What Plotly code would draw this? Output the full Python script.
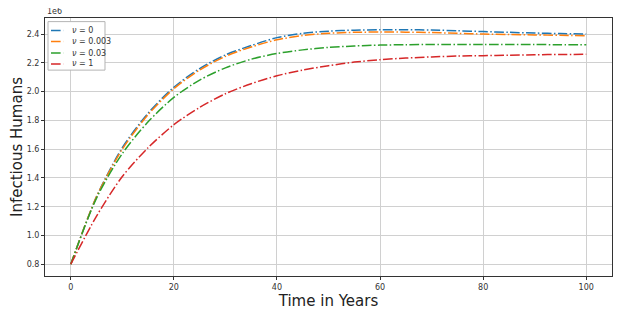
import plotly.graph_objects as go

years = [0, 5, 10, 15, 20, 25, 30, 35, 40, 45, 50, 55, 60, 65, 70, 75, 80, 85, 90, 95, 100]

# values in millions of humans
nu_0 = [0.80, 1.27, 1.61, 1.85, 2.03, 2.16, 2.255, 2.32, 2.375, 2.405, 2.42, 2.427, 2.43, 2.43, 2.428, 2.423, 2.417, 2.412, 2.407, 2.403, 2.400]
nu_0003 = [0.80, 1.27, 1.60, 1.84, 2.02, 2.15, 2.245, 2.31, 2.36, 2.39, 2.405, 2.412, 2.414, 2.413, 2.41, 2.405, 2.40, 2.397, 2.394, 2.391, 2.388]
nu_003 = [0.80, 1.26, 1.57, 1.79, 1.96, 2.08, 2.165, 2.225, 2.265, 2.29, 2.307, 2.317, 2.323, 2.326, 2.328, 2.328, 2.328, 2.327, 2.327, 2.326, 2.326]
nu_1 = [0.80, 1.135, 1.41, 1.61, 1.77, 1.89, 1.985, 2.055, 2.11, 2.15, 2.18, 2.205, 2.222, 2.233, 2.241, 2.247, 2.25, 2.253, 2.256, 2.258, 2.259]

series_names = ["<i>ν</i> = 0", "<i>ν</i> = 0.003", "<i>ν</i> = 0.03", "<i>ν</i> = 1"]
series_vals = [nu_0, nu_0003, nu_003, nu_1]
colors = ["#1f77b4", "#ff7f0e", "#2ca02c", "#d62728"]

y_ticks = [0.8, 1.0, 1.2, 1.4, 1.6, 1.8, 2.0, 2.2, 2.4]
x_ticks = [0, 20, 40, 60, 80, 100]

DASH = "9.6px,2.4px,1.5px,2.4px"

fig = go.Figure()
for name, vals, c in zip(series_names, series_vals, colors):
    fig.add_trace(go.Scatter(
        x=years, y=[v * 1e6 for v in vals], name=name, mode="lines",
        line=dict(color=c, width=1.5, dash=DASH, shape="spline", smoothing=0.8),
    ))

axis_common = dict(showline=True, linecolor="#333", linewidth=1, mirror=True,
                   showgrid=True, gridcolor="#d0d0d0", gridwidth=1, zeroline=False,
                   ticks="outside", ticklen=3, tickcolor="#333", automargin=False,
                   tickfont=dict(family="DejaVu Sans", size=8, color="#333"))

# compact matplotlib-style legend (box + samples + labels)
shapes = [dict(type="rect", xref="paper", yref="paper", x0=0.0053, x1=0.1058, y0=0.798, y1=0.986,
               line=dict(color="#b4b4b4", width=1), fillcolor="white", layer="above")]
annotations = [dict(text="1e6", xref="paper", yref="paper", x=0, y=1,
                    xanchor="left", yanchor="bottom", showarrow=False,
                    font=dict(size=8, color="#333"))]
row_y = [0.952, 0.909, 0.864, 0.822]
for name, c, ry in zip(series_names, colors, row_y):
    shapes.append(dict(type="line", xref="paper", yref="paper", x0=0.0106, x1=0.032, y0=ry, y1=ry,
                       line=dict(color=c, width=1.5, dash=DASH), layer="above"))
    annotations.append(dict(text=name, xref="paper", yref="paper", x=0.044, y=ry,
                            xanchor="left", yanchor="middle", showarrow=False,
                            font=dict(size=8, color="#333")))

fig.update_layout(
    width=620, height=303,
    margin=dict(l=37, r=16, t=10, b=35),
    paper_bgcolor="white", plot_bgcolor="white",
    font=dict(family="DejaVu Sans", color="#222"),
    xaxis=dict(range=[-5, 105], tickvals=x_ticks,
               title=dict(text="Time in Years", font=dict(size=15, color="#222"), standoff=2),
               **axis_common),
    yaxis=dict(range=[0.7185e6, 2.5115e6], tickvals=[v * 1e6 for v in y_ticks],
               ticktext=[f"{v:.1f}" for v in y_ticks],
               title=dict(text="Infectious Humans", font=dict(size=15, color="#222"), standoff=6),
               **axis_common),
    showlegend=False,
    shapes=shapes,
    annotations=annotations,
)

fig.write_html("out.html")
